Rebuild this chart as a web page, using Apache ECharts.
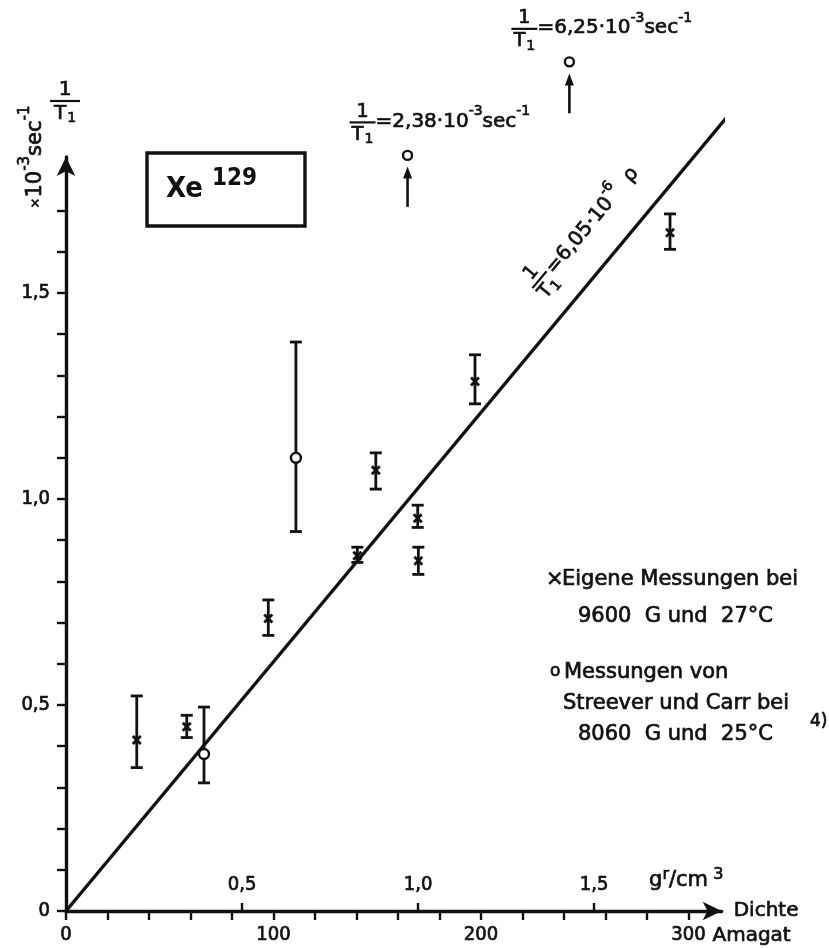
<!DOCTYPE html>
<html>
<head>
<meta charset="utf-8">
<script src="https://cdn.jsdelivr.net/npm/echarts@6/dist/echarts.min.js"></script>
<style>
  html, body { margin: 0; padding: 0; background: #fff; }
  #c { width: 829px; height: 948px; }
</style>
</head>
<body>
<div id="c"></div>
<script>
// Xe-129: Relaxationsrate 1/T1 (in 10^-3 sec^-1) gegen Dichte (Amagat)

// Eigene Messungen (9600 G, 27 °C)
const eigeneDichte = [34.1, 58.2, 97.5, 140.4, 149.3, 169.5, 169.8, 197.1, 291.1];
const eigeneRate   = [0.415, 0.447, 0.710, 0.862, 1.070, 0.953, 0.850, 1.285, 1.646];
const eigeneOben   = [0.522, 0.475, 0.755, 0.883, 1.112, 0.985, 0.883, 1.350, 1.692];
const eigeneUnten  = [0.348, 0.421, 0.669, 0.846, 1.024, 0.931, 0.817, 1.231, 1.606];

// Streever und Carr (8060 G, 25 °C)
const streeverDichte = [66.5, 110.8];
const streeverRate   = [0.381, 1.100];
const streeverOben   = [0.495, 1.381];
const streeverUnten  = [0.311, 0.921];

// Werte ausserhalb der Skala: Kreis oberhalb, Pfeil darunter
const ausserhalbDichte = [164.6, 242.6];
const ausserhalbLage   = [1.834, 2.061];
const ausserhalbWert   = ['2,38', '6,25'];
const pfeilUnten       = [1.709, 1.936];
const pfeilOben        = [1.807, 2.033];

// Ausgleichsgerade 1/T1 = 6,05·10^-6 ρ  (ρ in Amagat, sec^-1)
const geradeSteigung = 6.05e-6 * 1000;   // in 10^-3 sec^-1 pro Amagat
const geradeBis = 324.5;
const geradeTextBei = 243;

// Achsen
const amagatStriche = [0, 20, 40, 60, 80, 100, 120, 140, 160, 180, 200, 220, 240, 260, 280, 300];
const amagatWerte   = [0, 100, 200, 300];
const rateStriche   = [0, 0.1, 0.2, 0.3, 0.4, 0.5, 0.6, 0.7, 0.8, 0.9, 1.0, 1.1, 1.2, 1.3, 1.4, 1.5, 1.6, 1.7];
const rateWerte     = [0, 0.5, 1.0, 1.5];
const dichteWerte   = [0.5, 1.0, 1.5];          // gr/cm^3
const GRAMM_PRO_AMAGAT = 0.005894;              // Xe bei Normalbedingungen

const INK = '#111';
const F  = "'DejaVu Sans', sans-serif";
const FC = "'DejaVu Sans Condensed', 'DejaVu Sans', sans-serif";
const X_MAX = 316, Y_MAX = 1.83;
const DICK = 0.7;   // leichte Kontur, damit die Schrift kraeftiger wirkt

const komma = v => (v === 0 ? '0' : v.toFixed(1).replace('.', ','));

function fehlerbalken(mitKreuz) {
  return function (params, api) {
    const x = api.value(0);
    const o = api.coord([x, api.value(1)]);
    const u = api.coord([x, api.value(2)]);
    const m = api.coord([x, api.value(3)]);
    const s = { stroke: INK, lineWidth: 2.8 };
    const c = 6;
    const kids = [
      { type: 'line', shape: { x1: o[0], y1: o[1], x2: u[0], y2: u[1] }, style: s },
      { type: 'line', shape: { x1: o[0] - c, y1: o[1], x2: o[0] + c, y2: o[1] }, style: s },
      { type: 'line', shape: { x1: u[0] - c, y1: u[1], x2: u[0] + c, y2: u[1] }, style: s }
    ];
    if (mitKreuz) {
      const d = 4;
      kids.push(
        { type: 'line', shape: { x1: m[0] - d, y1: m[1] - d, x2: m[0] + d, y2: m[1] + d }, style: { stroke: INK, lineWidth: 2.8 } },
        { type: 'line', shape: { x1: m[0] - d, y1: m[1] + d, x2: m[0] + d, y2: m[1] - d }, style: { stroke: INK, lineWidth: 2.8 } }
      );
    }
    return { type: 'group', children: kids };
  };
}

function pfeil(params, api) {
  const x = api.value(0);
  const a = api.coord([x, api.value(1)]);
  const b = api.coord([x, api.value(2)]);
  return {
    type: 'group',
    children: [
      { type: 'line', shape: { x1: a[0], y1: a[1], x2: b[0], y2: b[1] + 8 }, style: { stroke: INK, lineWidth: 2.6 } },
      { type: 'polygon', shape: { points: [[b[0], b[1]], [b[0] - 4.5, b[1] + 12], [b[0] + 4.5, b[1] + 12]] }, style: { fill: INK } }
    ]
  };
}

const eigeneDaten = eigeneDichte.map((x, i) => [x, eigeneOben[i], eigeneUnten[i], eigeneRate[i]]);
const streeverBalken = streeverDichte.map((x, i) => [x, streeverOben[i], streeverUnten[i], streeverRate[i]]);
const streeverPunkte = streeverDichte.map((x, i) => [x, streeverRate[i]]);
const ausserhalbPunkte = ausserhalbDichte.map((x, i) => [x, ausserhalbLage[i]]);
const pfeilDaten = ausserhalbDichte.map((x, i) => [x, pfeilUnten[i], pfeilOben[i]]);

const achsLinie = { show: true, symbol: ['none', 'arrow'], symbolSize: [14, 19], lineStyle: { color: INK, width: 3.4 } };
const tickText = { color: INK, fontFamily: FC, fontSize: 20, textBorderColor: INK, textBorderWidth: DICK };

const chart = echarts.init(document.getElementById('c'), null, { renderer: 'canvas' });

chart.setOption({
  animation: false,
  backgroundColor: '#fff',
  grid: { left: 66, right: 829 - 66 - X_MAX * 2.075, top: 911 - Y_MAX * 412, bottom: 37 },
  xAxis: [{
    type: 'value', min: 0, max: X_MAX, position: 'bottom',
    axisLine: achsLinie,
    axisTick: { show: true, customValues: amagatStriche, length: 9, lineStyle: { color: INK, width: 2.4 } },
    axisLabel: Object.assign({ customValues: amagatWerte, margin: 14, formatter: v => String(v) }, tickText),
    splitLine: { show: false },
    name: 'Dichte', nameLocation: 'end', nameGap: 12,
    nameTextStyle: { color: INK, fontFamily: F, fontSize: 20, align: 'left', verticalAlign: 'middle', textBorderColor: INK, textBorderWidth: DICK }
  }, {
    type: 'value', min: 0, max: X_MAX * GRAMM_PRO_AMAGAT, position: 'bottom', offset: 0,
    axisLine: { show: false },
    axisTick: { show: true, inside: true, customValues: dichteWerte, length: 8, lineStyle: { color: INK, width: 2.4 } },
    axisLabel: Object.assign({ inside: true, customValues: dichteWerte, margin: 16, formatter: komma }, tickText),
    splitLine: { show: false }
  }],
  yAxis: {
    type: 'value', min: 0, max: Y_MAX,
    axisLine: achsLinie,
    axisTick: { show: true, customValues: rateStriche, length: 9, lineStyle: { color: INK, width: 2.4 } },
    axisLabel: Object.assign({ customValues: rateWerte, margin: 16, formatter: komma }, tickText),
    splitLine: { show: false }
  },
  series: [
    {
      name: 'Gerade', type: 'line', clip: false, symbol: 'none', z: 2,
      data: [[0, 0], [geradeBis, geradeBis * geradeSteigung]],
      lineStyle: { color: INK, width: 3.4 }
    },
    {
      name: 'Eigene Messungen', type: 'custom', clip: false, z: 3,
      renderItem: fehlerbalken(true), encode: { x: 0, y: [1, 2] }, data: eigeneDaten
    },
    {
      name: 'Streever und Carr', type: 'custom', clip: false, z: 3,
      renderItem: fehlerbalken(false), encode: { x: 0, y: [1, 2] }, data: streeverBalken
    },
    {
      name: 'Streever und Carr Punkte', type: 'scatter', clip: false, z: 4,
      symbol: 'circle', symbolSize: 10, data: streeverPunkte,
      itemStyle: { color: '#fff', borderColor: INK, borderWidth: 2.4, opacity: 1 }
    },
    {
      name: 'ausserhalb', type: 'scatter', clip: false, z: 4,
      symbol: 'circle', symbolSize: 9, data: ausserhalbPunkte,
      itemStyle: { color: '#fff', borderColor: INK, borderWidth: 2.4, opacity: 1 }
    },
    {
      name: 'Pfeile', type: 'custom', clip: false, z: 3,
      renderItem: pfeil, encode: { x: 0, y: [1, 2] }, data: pfeilDaten
    }
  ]
});

// ---- Beschriftungen (zrender-Textstil, ohne Umrechnung alter Optionen) ----
const px = p => chart.convertToPixel({ gridIndex: 0 }, p);

function stil(gr, fett) {
  return { fontFamily: F, fontSize: gr, fontWeight: fett ? 'bold' : 'normal', fill: INK, stroke: INK, lineWidth: DICK };
}
function text(x, y, inhalt, extra, drehung) {
  const el = { type: 'text', x: x, y: y, style: Object.assign({ legacy: false, text: inhalt, align: 'left', verticalAlign: 'middle' }, extra) };
  if (drehung) el.rotation = drehung;
  return el;
}
const richStd = {
  n: stil(20),
  s: Object.assign(stil(14), { padding: [0, 0, 20, 0] }),
  x: stil(13)
};

// Bruch 1/T1, Mittelpunkt des Bruchstrichs bei (x, y)
function bruch(x, y, breite, gr) {
  return [
    text(x, y - 1, '1', Object.assign(stil(gr), { align: 'center', verticalAlign: 'bottom' })),
    { type: 'line', shape: { x1: x - breite / 2, y1: y, x2: x + breite / 2, y2: y }, style: { stroke: INK, lineWidth: 2.2 } },
    text(x, y + 1, '{t|T}{i|1}', {
      align: 'center', verticalAlign: 'top',
      rich: {
        t: stil(gr),
        i: Object.assign(stil(Math.round(gr * 0.72)), { padding: [9, 0, 0, 1] })
      }
    })
  ];
}

const elemente = [];

// Kasten Xe 129
elemente.push(
  { type: 'rect', shape: { x: 147, y: 153, width: 158, height: 73 }, style: { fill: 'none', stroke: INK, lineWidth: 3.4 } },
  text(166, 204, 'Xe', Object.assign(stil(29, true), { fontFamily: FC, verticalAlign: 'bottom', lineWidth: 0 })),
  text(212, 191, '129', Object.assign(stil(24, true), { fontFamily: FC, verticalAlign: 'bottom', lineWidth: 0 }))
);

// Einheit an der senkrechten Achse
elemente.push(...bruch(65, 101, 30, 20));
elemente.push(text(36, 157, '{x|×}{n|10}{s|-3}{n|sec}{s|-1}', {
  align: 'center',
  rich: { n: stil(21), s: Object.assign(stil(15), { padding: [0, 0, 21, 0] }), x: stil(13) }
}, Math.PI / 2));

// Werte ausserhalb der Skala
ausserhalbDichte.forEach((d, i) => {
  const p = px([d, ausserhalbLage[i]]);
  elemente.push(...bruch(p[0] - 45, p[1] - 33, 26, 19));
  elemente.push(text(p[0] - 32, p[1] - 34, '{n|=' + ausserhalbWert[i] + '·10}{s|-3}{n|sec}{s|-1}', { rich: richStd }));
});

// Beschriftung der Geraden
(function () {
  const p0 = px([0, 0]);
  const p = px([geradeTextBei, geradeTextBei * geradeSteigung]);
  const winkel = Math.atan2(p0[1] - p[1], p[0] - p0[0]);
  elemente.push({
    type: 'group', x: p[0], y: p[1], rotation: winkel,
    children: bruch(0, -40, 22, 19).concat([
      text(13, -37, '{n|=6,05·10}{s|-6}{n|  ρ}', { rich: richStd })
    ])
  });
})();

// Legende
const leg = stil(21);
elemente.push(
  text(546, 580, '×', leg),
  text(562, 580, 'Eigene Messungen bei', leg),
  text(578, 617, '9600  G und  27°C', leg),
  text(550, 672, 'o', stil(17)),
  text(564, 673, 'Messungen von', leg),
  text(563, 704, 'Streever und Carr bei', leg),
  text(578, 735, '8060  G und  25°C', leg),
  text(810, 722, '4)', stil(17))
);

// Einheiten an der waagerechten Achse
(function () {
  const p300 = px([300, 0]);
  elemente.push(text(p300[0] + 24, p300[1] + 25, 'Amagat', stil(20)));
  const p15 = px([1.5 / GRAMM_PRO_AMAGAT, 0]);
  elemente.push(text(p15[0] + 55, p15[1] - 30, '{n|g}{s|r}{n|/cm}{s| 3}', {
    rich: { n: stil(21), s: Object.assign(stil(16), { padding: [0, 0, 12, 0] }) }
  }));
})();

chart.setOption({ graphic: { elements: elemente } });
</script>
</body>
</html>
